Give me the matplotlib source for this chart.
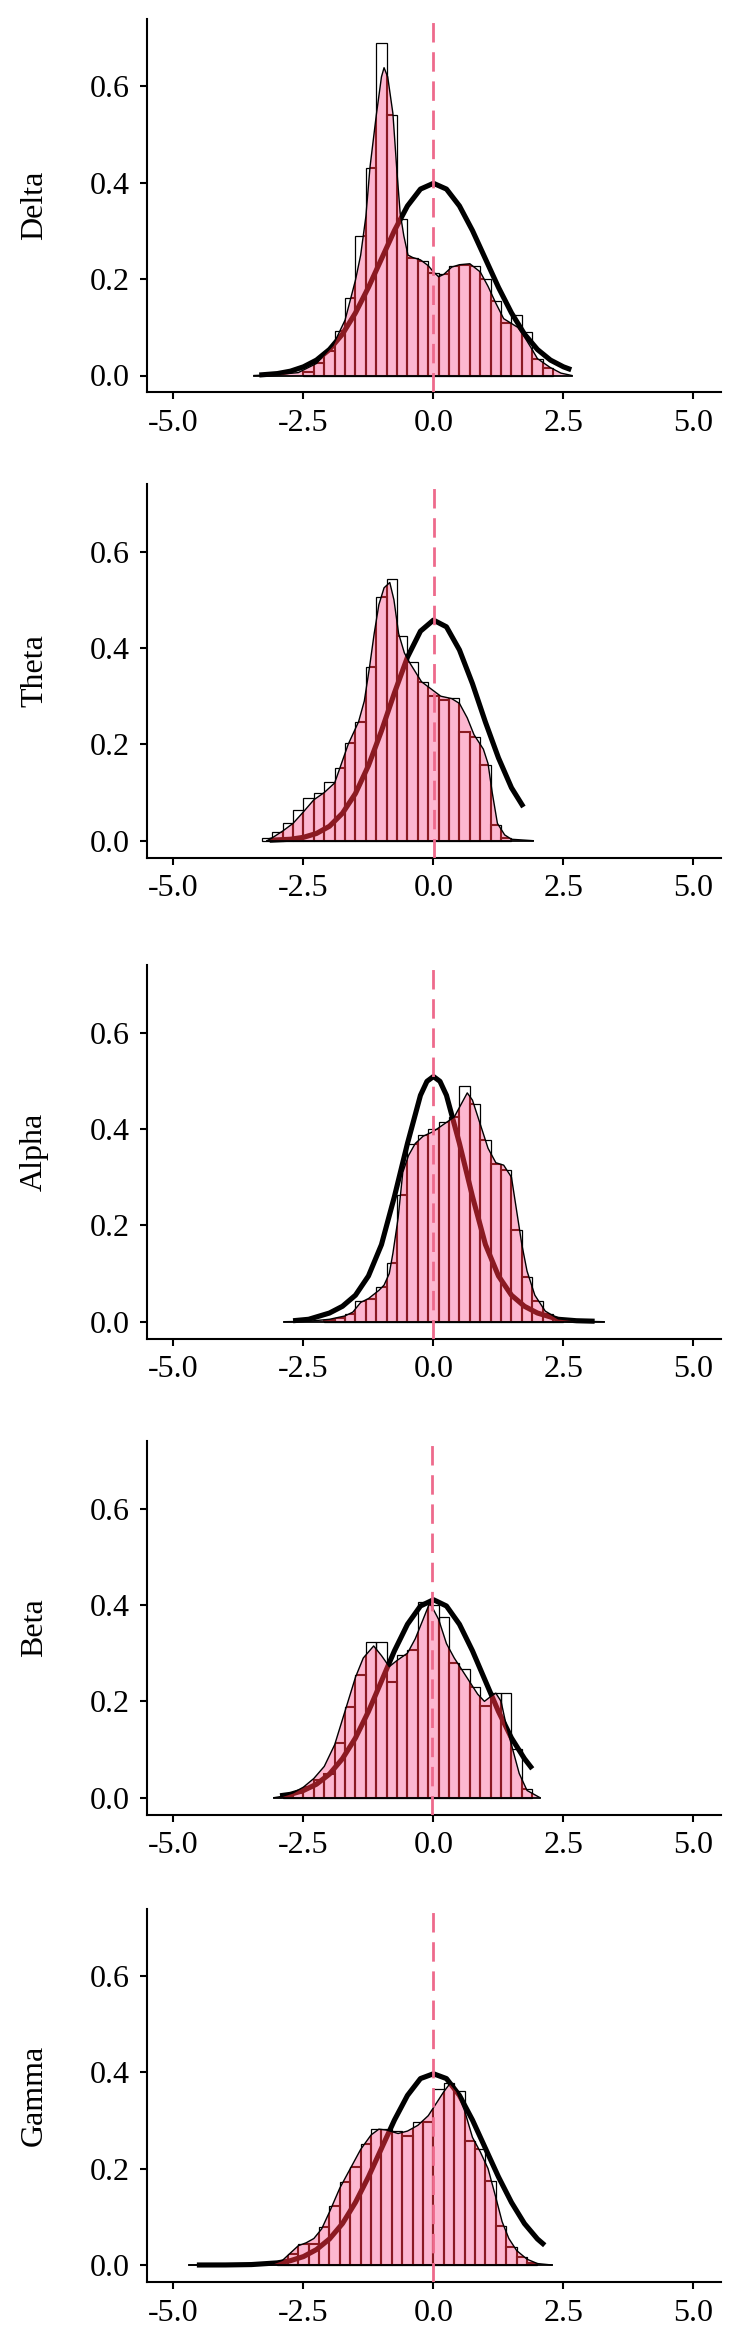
import numpy as np
import matplotlib.pyplot as plt
from matplotlib.patches import Polygon

plt.rcParams['font.family'] = ['Liberation Serif', 'DejaVu Serif']

bands = ['Delta', 'Theta', 'Alpha', 'Beta', 'Gamma']
bin_w = 0.2
xticks = [-5.0, -2.5, 0.0, 2.5, 5.0]
yticks = [0.0, 0.2, 0.4, 0.6]
vlines = [0.0, 0.02, 0.0, -0.02, 0.0]

# ---- Delta ----
delta_start = -2.5
delta_hist = [0.008, 0.025, 0.05, 0.093, 0.16, 0.29, 0.43, 0.69, 0.54, 0.325, 0.243, 0.238,
              0.212, 0.21, 0.228, 0.23, 0.228, 0.2, 0.155, 0.11, 0.125, 0.09, 0.035, 0.015]
delta_kde_x = [-3.45, -3.0, -2.6, -2.25, -1.93, -1.7, -1.5, -1.4, -1.3, -1.22, -1.1, -1.0, -0.95,
               -0.88, -0.78, -0.7, -0.64, -0.57, -0.49, -0.4, -0.25, -0.1, 0.0, 0.1, 0.2, 0.35,
               0.5, 0.7, 0.9, 1.05, 1.2, 1.35, 1.5, 1.62, 1.75, 1.87, 2.0, 2.24, 2.45, 2.66]
delta_kde_y = [0.0, 0.002, 0.006, 0.025, 0.063, 0.115, 0.198, 0.25, 0.33, 0.433, 0.54, 0.62, 0.639,
               0.62, 0.544, 0.42, 0.337, 0.29, 0.25, 0.245, 0.24, 0.228, 0.215, 0.205, 0.21, 0.225,
               0.23, 0.232, 0.215, 0.185, 0.15, 0.118, 0.108, 0.1, 0.08, 0.059, 0.035, 0.017, 0.005, 0.0]
delta_norm_x = [-3.35, -3.0, -2.75, -2.5, -2.25, -2.0, -1.75, -1.5, -1.25, -1.0, -0.75, -0.5, -0.25,
                0.0, 0.25, 0.5, 0.75, 1.0, 1.25, 1.5, 1.75, 2.0, 2.25, 2.5, 2.65]
delta_norm_y = [0.001, 0.004, 0.009, 0.018, 0.032, 0.054, 0.086, 0.13, 0.183, 0.242, 0.301, 0.352,
                0.387, 0.399, 0.387, 0.352, 0.301, 0.242, 0.183, 0.13, 0.086, 0.054, 0.032, 0.018, 0.012]

# ---- Theta ----
theta_start = -3.3
theta_hist = [0.006, 0.019, 0.036, 0.064, 0.088, 0.10, 0.122, 0.15, 0.202, 0.247, 0.36, 0.505,
              0.543, 0.425, 0.372, 0.33, 0.30, 0.292, 0.296, 0.226, 0.216, 0.157, 0.033, 0.005]
theta_kde_x = [-3.2, -3.1, -2.9, -2.7, -2.5, -2.3, -2.1, -1.9, -1.64, -1.44, -1.33, -1.23, -1.14,
               -1.05, -0.95, -0.84, -0.76, -0.67, -0.56, -0.46, -0.23, 0.14, 0.35, 0.5, 0.65, 0.78,
               0.96, 1.05, 1.13, 1.23, 1.37, 1.5, 1.92]
theta_kde_y = [0.0, 0.006, 0.02, 0.036, 0.06, 0.085, 0.1, 0.12, 0.2, 0.247, 0.29, 0.36, 0.43,
               0.49, 0.525, 0.536, 0.5, 0.43, 0.39, 0.37, 0.33, 0.3, 0.295, 0.285, 0.255, 0.22,
               0.19, 0.16, 0.1, 0.036, 0.012, 0.003, 0.0]
theta_norm_x = [-3.15, -2.75, -2.5, -2.25, -2.0, -1.75, -1.5, -1.25, -1.0, -0.75, -0.5, -0.25,
                0.0, 0.25, 0.5, 0.75, 1.0, 1.25, 1.5, 1.73]
theta_norm_y = [0.001, 0.003, 0.007, 0.015, 0.03, 0.057, 0.098, 0.156, 0.228, 0.307, 0.381, 0.435,
                0.458, 0.444, 0.396, 0.326, 0.246, 0.172, 0.11, 0.07]

# ---- Alpha ----
alpha_start = -2.1
alpha_hist = [0.003, 0.008, 0.017, 0.043, 0.048, 0.073, 0.121, 0.263, 0.369, 0.388, 0.40, 0.415,
              0.425, 0.49, 0.452, 0.377, 0.327, 0.315, 0.19, 0.093, 0.042, 0.017, 0.005]
alpha_kde_x = [-2.87, -2.4, -2.0, -1.7, -1.55, -1.4, -1.25, -1.05, -0.95, -0.85, -0.78, -0.68,
               -0.59, -0.48, -0.35, -0.2, 0.0, 0.2, 0.4, 0.55, 0.65, 0.75, 0.9, 1.05, 1.2, 1.35,
               1.5, 1.6, 1.7, 1.8, 1.95, 2.15, 2.4, 2.8, 3.28]
alpha_kde_y = [0.0, 0.001, 0.005, 0.012, 0.02, 0.04, 0.048, 0.065, 0.076, 0.1, 0.142, 0.215,
               0.31, 0.345, 0.37, 0.385, 0.395, 0.41, 0.425, 0.455, 0.475, 0.46, 0.41, 0.36, 0.33,
               0.325, 0.3, 0.23, 0.16, 0.105, 0.055, 0.022, 0.006, 0.001, 0.0]
alpha_norm_x = [-2.7, -2.4, -2.0, -1.75, -1.5, -1.25, -1.0, -0.75, -0.5, -0.25, -0.125, 0.0,
                0.125, 0.25, 0.5, 0.75, 1.0, 1.25, 1.5, 1.75, 2.0, 2.4, 2.75, 3.1]
alpha_norm_y = [0.002, 0.005, 0.018, 0.032, 0.055, 0.095, 0.16, 0.26, 0.37, 0.47, 0.499, 0.509,
                0.499, 0.47, 0.37, 0.26, 0.16, 0.095, 0.055, 0.032, 0.018, 0.005, 0.002, 0.001]

# ---- Beta ----
beta_start = -2.9
beta_hist = [0.004, 0.01, 0.023, 0.037, 0.05, 0.113, 0.188, 0.255, 0.3225, 0.3225, 0.24, 0.296,
             0.307, 0.407, 0.40, 0.376, 0.279, 0.268, 0.23, 0.19, 0.218, 0.218, 0.102, 0.019]
beta_kde_x = [-3.07, -2.9, -2.7, -2.5, -2.3, -2.1, -1.9, -1.7, -1.5, -1.35, -1.15, -1.0, -0.85,
              -0.7, -0.5, -0.35, -0.2, -0.07, 0.1, 0.25, 0.4, 0.55, 0.7, 0.85, 0.98, 1.1, 1.2,
              1.3, 1.4, 1.5, 1.65, 1.8, 2.05]
beta_kde_y = [0.0, 0.003, 0.01, 0.022, 0.04, 0.065, 0.11, 0.18, 0.25, 0.29, 0.315, 0.295, 0.272,
              0.285, 0.3, 0.33, 0.37, 0.405, 0.37, 0.32, 0.29, 0.265, 0.24, 0.215, 0.2, 0.21,
              0.217, 0.2, 0.15, 0.11, 0.05, 0.015, 0.0]
beta_norm_x = [-2.95, -2.75, -2.5, -2.25, -2.0, -1.75, -1.5, -1.25, -1.0, -0.75, -0.5, -0.25,
               0.0, 0.25, 0.5, 0.75, 1.0, 1.25, 1.5, 1.75, 1.9]
beta_norm_y = [0.004, 0.007, 0.015, 0.028, 0.049, 0.081, 0.124, 0.179, 0.242, 0.305, 0.36, 0.398,
               0.411, 0.398, 0.36, 0.305, 0.242, 0.179, 0.124, 0.081, 0.06]

# ---- Gamma ----
gamma_start = -3.0
gamma_hist = [0.008, 0.023, 0.044, 0.044, 0.078, 0.123, 0.172, 0.203, 0.251, 0.282, 0.282, 0.279,
              0.268, 0.296, 0.296, 0.365, 0.377, 0.362, 0.258, 0.241, 0.175, 0.082, 0.037, 0.016, 0.005]
gamma_kde_x = [-4.7, -3.5, -3.1, -2.9, -2.75, -2.6, -2.45, -2.3, -2.15, -2.0, -1.8, -1.6, -1.4,
               -1.2, -1.05, -0.9, -0.68, -0.5, -0.3, -0.1, 0.05, 0.2, 0.32, 0.45, 0.6, 0.75, 0.9,
               1.05, 1.2, 1.32, 1.45, 1.6, 1.8, 2.0, 2.28]
gamma_kde_y = [0.0, 0.0, 0.002, 0.01, 0.025, 0.04, 0.046, 0.055, 0.075, 0.11, 0.16, 0.2, 0.24,
               0.27, 0.282, 0.28, 0.273, 0.278, 0.29, 0.31, 0.335, 0.36, 0.377, 0.36, 0.32, 0.265,
               0.235, 0.2, 0.14, 0.09, 0.055, 0.03, 0.012, 0.003, 0.0]
gamma_norm_x = [-4.55, -4.0, -3.5, -3.0, -2.75, -2.5, -2.25, -2.0, -1.75, -1.5, -1.25, -1.0, -0.75,
                -0.5, -0.25, 0.0, 0.25, 0.5, 0.75, 1.0, 1.25, 1.5, 1.75, 2.0, 2.14]
gamma_norm_y = [0.0, 0.0001, 0.0009, 0.0044, 0.009, 0.0175, 0.032, 0.054, 0.086, 0.13, 0.183,
                0.242, 0.301, 0.352, 0.387, 0.397, 0.387, 0.352, 0.301, 0.242, 0.183, 0.13, 0.086,
                0.054, 0.041]

starts = [delta_start, theta_start, alpha_start, beta_start, gamma_start]
hists = [delta_hist, theta_hist, alpha_hist, beta_hist, gamma_hist]
kdes = [(delta_kde_x, delta_kde_y), (theta_kde_x, theta_kde_y), (alpha_kde_x, alpha_kde_y),
        (beta_kde_x, beta_kde_y), (gamma_kde_x, gamma_kde_y)]
norms = [(delta_norm_x, delta_norm_y), (theta_norm_x, theta_norm_y), (alpha_norm_x, alpha_norm_y),
         (beta_norm_x, beta_norm_y), (gamma_norm_x, gamma_norm_y)]

pink = '#FDB7D0'
dark_red = '#8B1A22'
dash_col = '#EE6A8C'

W, H = 741, 2344
fig = plt.figure(figsize=(W / 100, H / 100), dpi=100)

# pixel row of the 0.0 tick in each panel
zero_px = [375.5, 840.7, 1321.7, 1797.7, 2265.0]
px_per_unit = 481.7
ylo, yhi = -0.035, 0.74
xlo, xhi = -5.515, 5.53
left_px, right_px = 146.7, 721.0

for i, name in enumerate(bands):
    bottom_px = zero_px[i] - ylo * px_per_unit
    height_px = (yhi - ylo) * px_per_unit
    ax = fig.add_axes([left_px / W, 1 - bottom_px / H, (right_px - left_px) / W, height_px / H])

    hist = np.array(hists[i])
    edges = starts[i] + bin_w * np.arange(len(hist) + 1)
    kx, ky = np.array(kdes[i][0]), np.array(kdes[i][1])
    nx, ny = norms[i]

    # normal curve (black) and histogram outlines
    ax.plot(nx, ny, color='black', lw=3.7, zorder=2, solid_capstyle='butt')
    ax.bar(edges[:-1], hist, width=bin_w, align='edge', fill=False,
           edgecolor='black', lw=0.9, zorder=2)

    # density area
    pts = np.column_stack([kx, ky])
    kde_poly = Polygon(pts, closed=True, facecolor=pink, edgecolor='none', zorder=3)
    ax.add_patch(kde_poly)

    # what sits under the pink area shows dark red
    bars_in = ax.bar(edges[:-1], hist, width=bin_w, align='edge', fill=False,
                     edgecolor=dark_red, lw=1.5, zorder=4)
    for p in bars_in.patches:
        p.set_clip_path(kde_poly)
    line_in, = ax.plot(nx, ny, color=dark_red, lw=3.7, zorder=4, solid_capstyle='butt')
    line_in.set_clip_path(kde_poly)

    ax.plot(kx, ky, color='black', lw=1.0, zorder=5)
    ax.plot([kx[0], kx[-1]], [0, 0], color='black', lw=1.3, zorder=5)

    ax.axvline(vlines[i], color=dash_col, lw=2.0, dashes=(7, 3.5), zorder=6)

    ax.set_xlim(xlo, xhi)
    ax.set_ylim(ylo, yhi)
    ax.set_xticks(xticks)
    ax.set_yticks(yticks)
    ax.set_xticklabels(['%.1f' % t for t in xticks])
    ax.set_yticklabels(['%.1f' % t for t in yticks])
    ax.tick_params(axis='both', length=5, width=1.5, labelsize=23, pad=7, color='black')

    for s in ['top', 'right']:
        ax.spines[s].set_visible(False)
    for s in ['left', 'bottom']:
        ax.spines[s].set_linewidth(1.5)

    ax.set_ylabel(name, fontsize=23)
    ax.yaxis.set_label_coords(-0.17, 0.5)

fig.savefig('out.png', dpi=100)
